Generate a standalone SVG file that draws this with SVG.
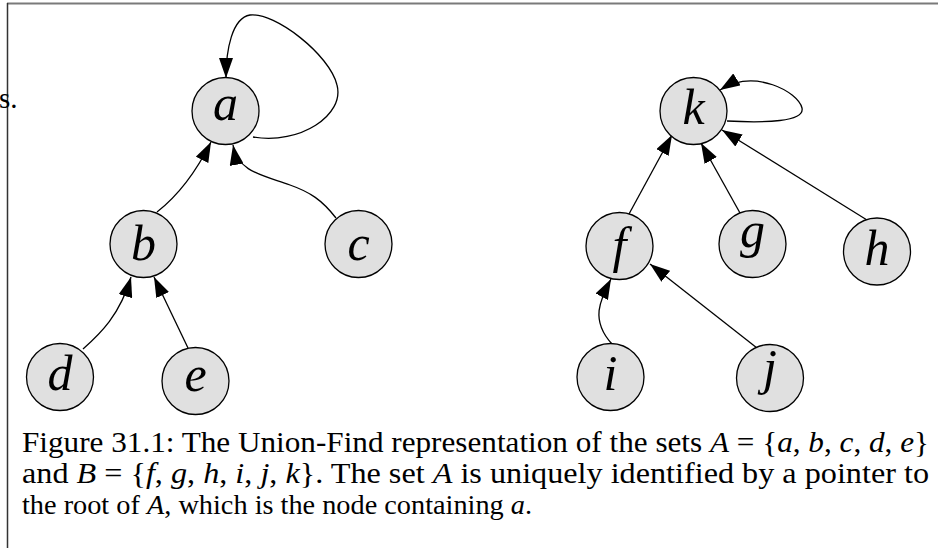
<svg xmlns="http://www.w3.org/2000/svg" width="938" height="548" viewBox="0 0 938 548">
<defs>
<marker id="arr" markerUnits="userSpaceOnUse" markerWidth="20" markerHeight="14" refX="20" refY="7" orient="auto">
<path d="M0,0 L20,7 L0,14 z" fill="#000"/>
</marker>
<style>
.node circle{fill:#e0e0e0;stroke:#000;stroke-width:1.3}
.node text{font-family:"Liberation Serif","Times New Roman",serif;font-style:italic;font-size:50px;text-anchor:middle;fill:#000}
#edges path{fill:none;stroke:#000;stroke-width:1.3;marker-end:url(#arr)}
.cap{font-family:"Liberation Serif","Times New Roman",serif;font-size:29px;fill:#000}
.m{font-style:italic}
</style>
</defs>
<rect width="938" height="548" fill="#fff"/>
<line x1="7" y1="3.5" x2="938" y2="3.5" stroke="#7a7a7a" stroke-width="2"/>
<line x1="7.5" y1="3" x2="7.5" y2="548" stroke="#333" stroke-width="1.5"/>
<text x="-1" y="108" class="cap">s.</text>
<g id="edges">
<path d="M253,137 C300,145 345,115 337,85 C330,55 275,12 250,15 C232,18 226,50 226,78"/>
<path d="M157,212 C175,198 193,178 211,142"/>
<path d="M336,218 C322,200 310,192 290,185 C262,175 238,172 233,145"/>
<path d="M83,349 C100,334 120,315 131,277"/>
<path d="M188,348 L154,277"/>
<path d="M727,121 C765,123 805,122 802,108 C798,92 755,68 720,90"/>
<path d="M629,214 L672,135"/>
<path d="M740,213 L701,143"/>
<path d="M867,220 L722,130"/>
<path d="M612,344 C590,320 600,300 611,279"/>
<path d="M757,348 L650,264"/>
</g>
<g id="node-a" class="node"><circle cx="225.5" cy="111" r="33.5"/><text x="225.5" y="120">a</text></g>
<g id="node-b" class="node"><circle cx="143.5" cy="244" r="33.5"/><text x="143.5" y="260">b</text></g>
<g id="node-c" class="node"><circle cx="358.5" cy="244" r="33.5"/><text x="358.5" y="260">c</text></g>
<g id="node-d" class="node"><circle cx="60" cy="377" r="33.5"/><text x="60" y="390">d</text></g>
<g id="node-e" class="node"><circle cx="195.5" cy="381" r="33.5"/><text x="195.5" y="391">e</text></g>
<g id="node-k" class="node"><circle cx="693.5" cy="111" r="33.5"/><text x="693.5" y="124">k</text></g>
<g id="node-f" class="node"><circle cx="619.5" cy="246" r="33.5"/><text x="619.5" y="262">f</text></g>
<g id="node-g" class="node"><circle cx="752.5" cy="244" r="33.5"/><text x="752.5" y="247">g</text></g>
<g id="node-h" class="node"><circle cx="877" cy="251.5" r="33.5"/><text x="877" y="265">h</text></g>
<g id="node-i" class="node"><circle cx="610.5" cy="377" r="33.5"/><text x="610.5" y="390">i</text></g>
<g id="node-j" class="node"><circle cx="770" cy="378" r="33.5"/><text x="770" y="384">j</text></g>
<g id="caption">
<text class="cap" x="22" y="452" textLength="907" lengthAdjust="spacingAndGlyphs">Figure 31.1: The Union-Find representation of the sets <tspan class="m">A</tspan> = {<tspan class="m">a</tspan>, <tspan class="m">b</tspan>, <tspan class="m">c</tspan>, <tspan class="m">d</tspan>, <tspan class="m">e</tspan>}</text>
<text class="cap" x="22" y="483" textLength="907" lengthAdjust="spacingAndGlyphs">and <tspan class="m">B</tspan> = {<tspan class="m">f</tspan>, <tspan class="m">g</tspan>, <tspan class="m">h</tspan>, <tspan class="m">i</tspan>, <tspan class="m">j</tspan>, <tspan class="m">k</tspan>}. The set <tspan class="m">A</tspan> is uniquely identified by a pointer to</text>
<text class="cap" x="22" y="514" style="font-size:28.3px">the root of <tspan class="m">A</tspan>, which is the node containing <tspan class="m">a</tspan>.</text>
</g>
</svg>
